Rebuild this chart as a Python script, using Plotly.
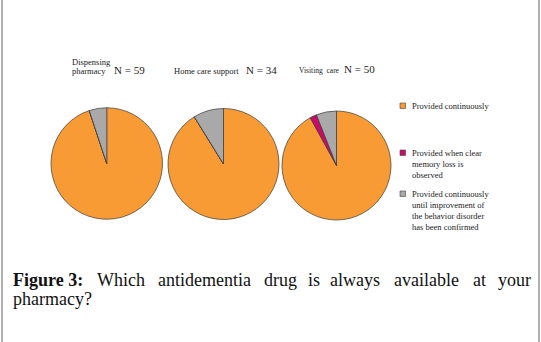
import plotly.graph_objects as go

# ---- data ----
groups = ["Dispensing pharmacy", "Home care support", "Visiting care"]
n_values = [59, 34, 50]
categories = [
    "Provided continuously",
    "Provided when clear memory loss is observed",
    "Provided continuously until improvement of the behavior disorder has been confirmed",
]
pharmacy_counts = [56, 0, 3]
home_care_counts = [31, 0, 3]
visiting_counts = [46, 1, 3]
colors = ["#F99B35", "#CC0A6A", "#A9A9A9"]
legend_lines = [
    ["Provided continuously"],
    ["Provided when clear", "memory loss is", "observed"],
    ["Provided continuously", "until improvement of", "the behavior disorder", "has been confirmed"],
]
caption_words = ["Which", "antidementia", "drug", "is", "always", "available", "at", "your"]

W, H = 541, 342
def px(x):
    return x / W
def py(y):
    return 1 - y / H

fig = go.Figure()

all_counts = [pharmacy_counts, home_care_counts, visiting_counts]
# pie boxes in pixels (left, top, right, bottom)
boxes = [(51, 107.5, 162.5, 219.5), (168, 108.5, 279, 219.5), (282, 111, 391, 220)]
for name, counts, (l, t, r, b) in zip(groups, all_counts, boxes):
    fig.add_trace(go.Pie(
        labels=categories, values=counts, name=name,
        sort=False, direction="clockwise", rotation=0,
        textinfo="none", hoverinfo="label+value",
        marker=dict(colors=colors, line=dict(color="#3a3a3a", width=0.7)),
        domain=dict(x=[px(l), px(r)], y=[py(b), py(t)]),
        showlegend=False,
    ))

serif = "Liberation Serif"
ann = []
small = dict(family=serif, size=8.5, color="#222")
tiny = dict(family=serif, size=7.5, color="#222")
big = dict(family=serif, size=11, color="#222")
# group titles
ann.append(dict(x=px(70), y=py(62), text="Dispensing", font=small, xanchor="left", yanchor="middle"))
ann.append(dict(x=px(70), y=py(71), text="pharmacy", font=small, xanchor="left", yanchor="middle"))
ann.append(dict(x=px(112), y=py(70), text=f"N = {n_values[0]}", font=big, xanchor="left", yanchor="middle"))
ann.append(dict(x=px(172), y=py(71), text=groups[1], font=small, xanchor="left", yanchor="middle"))
ann.append(dict(x=px(244), y=py(70), text=f"N = {n_values[1]}", font=big, xanchor="left", yanchor="middle"))
ann.append(dict(x=px(297), y=py(70), text="Visiting\u00a0\u00a0care", font=tiny, xanchor="left", yanchor="middle"))
ann.append(dict(x=px(342), y=py(69), text=f"N\u00a0=\u00a0{n_values[2]}", font=big, xanchor="left", yanchor="middle"))

# custom legend
shapes = []
leg_tops = [99, 146, 187]
for lines, col, top in zip(legend_lines, colors, leg_tops):
    ann.append(dict(x=px(410), y=py(top), text="<br>".join(lines), font=small,
                    xanchor="left", yanchor="top", align="left"))
    shapes.append(dict(type="rect", xref="paper", yref="paper",
                       x0=px(400), x1=px(405.5), y0=py(top + 9.5), y1=py(top + 4),
                       fillcolor=col, line=dict(color="#444", width=0.6)))

# caption (justified first line)
cap_font = dict(family=serif, size=18, color="#111")
ann.append(dict(x=px(11), y=py(280), text="<b>Figure 3:</b>", font=cap_font,
                xanchor="left", yanchor="middle"))
word_x = [95, 156, 262, 305.5, 327.5, 391.5, 470.5, 495.5]
for w, x in zip(caption_words, word_x):
    ann.append(dict(x=px(x), y=py(280), text=w, font=cap_font, xanchor="left", yanchor="middle"))
ann.append(dict(x=px(11), y=py(299), text="pharmacy?", font=cap_font, xanchor="left", yanchor="middle"))

for a in ann:
    a.update(xref="paper", yref="paper", showarrow=False)

# side border lines
for x in (2, 539):
    shapes.append(dict(type="line", xref="paper", yref="paper", x0=px(x), x1=px(x),
                       y0=0, y1=1, line=dict(color="#b0b0b0", width=2)))

fig.update_layout(
    width=W, height=H, margin=dict(l=0, r=0, t=0, b=0),
    paper_bgcolor="white", plot_bgcolor="white",
    annotations=ann, shapes=shapes, showlegend=False,
)
fig.write_html(
    "out.html",
    config={"displayModeBar": False},
    post_script="document.body.style.margin='0';document.body.style.overflow='hidden';",
)
